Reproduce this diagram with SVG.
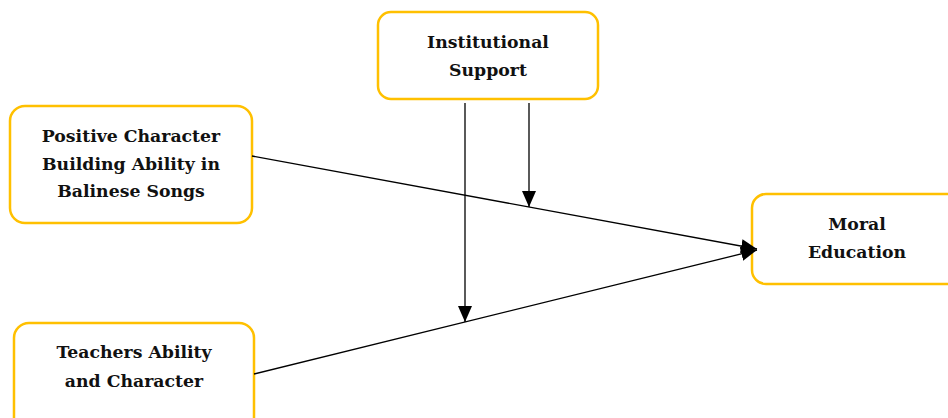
<svg xmlns="http://www.w3.org/2000/svg" width="948" height="418" viewBox="0 0 948 418">
<style>
.box{fill:#fff;stroke:#FFC000;stroke-width:2.5}
.t{font-family:"DejaVu Serif","Liberation Serif",serif;font-weight:bold;font-size:17.3px;fill:#111;text-anchor:middle}
.ln{stroke:#000;stroke-width:1.3;fill:none}
</style>
<defs>
<marker id="ah" markerWidth="16" markerHeight="14" refX="16" refY="7" orient="auto" markerUnits="userSpaceOnUse">
<path d="M0,0 L16,7 L0,14 Z" fill="#000"/>
</marker>
</defs>
<rect width="948" height="418" fill="#fff"/>
<g id="institutional">
<rect class="box" x="378" y="12" width="220" height="87" rx="13"/>
<text class="t" x="488" y="48">Institutional</text>
<text class="t" x="488" y="76">Support</text>
</g>
<g id="positive">
<rect class="box" x="10" y="106" width="242" height="117" rx="15"/>
<text class="t" x="131" y="142">Positive Character</text>
<text class="t" x="131" y="170">Building Ability in</text>
<text class="t" x="131" y="197">Balinese Songs</text>
</g>
<g id="teachers">
<rect class="box" x="14" y="323" width="240" height="110" rx="15"/>
<text class="t" x="134" y="358">Teachers Ability</text>
<text class="t" x="134" y="387">and Character</text>
</g>
<g id="moral">
<rect class="box" x="752" y="194" width="210" height="90" rx="14"/>
<text class="t" x="857" y="230">Moral</text>
<text class="t" x="857" y="258">Education</text>
</g>
<g id="connectors">
<line class="ln" x1="252" y1="156" x2="757" y2="249" marker-end="url(#ah)"/>
<line class="ln" x1="254" y1="374" x2="757" y2="250" marker-end="url(#ah)"/>
<line class="ln" x1="529" y1="103" x2="529" y2="207" marker-end="url(#ah)"/>
<line class="ln" x1="465" y1="103" x2="465" y2="322" marker-end="url(#ah)"/>
</g>
</svg>
